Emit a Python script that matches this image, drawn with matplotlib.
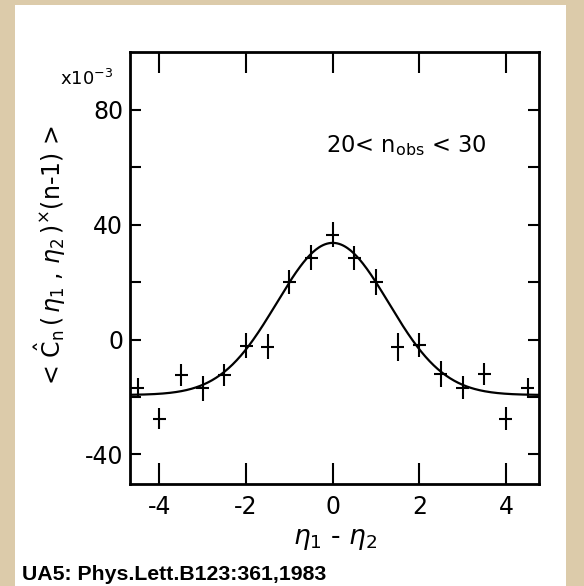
import numpy as np
import matplotlib
matplotlib.use("Agg")
import matplotlib.pyplot as plt
from matplotlib.patches import Rectangle
from matplotlib.ticker import FixedLocator

plt.rcParams['font.family'] = ['DejaVu Sans']
plt.rcParams['mathtext.fontset'] = 'custom'
plt.rcParams['mathtext.rm'] = 'DejaVu Sans'
plt.rcParams['mathtext.it'] = 'DejaVu Sans:italic'
plt.rcParams['axes.unicode_minus'] = False

# measured points (eta1 - eta2, correlation x 1e3)
deta = [-4.5, -4.0, -3.5, -3.0, -2.5, -2.0, -1.5, -1.0, -0.5, 0.0,
        0.5, 1.0, 1.5, 2.0, 2.5, 3.0, 3.5, 4.0, 4.5]
corr = [-17.0, -27.5, -12.4, -17.0, -12.4, -2.1, -2.5, 20.1, 28.5, 36.6,
        28.3, 20.1, -2.5, -1.9, -12.0, -16.7, -12.0, -27.5, -16.7]
corr_err = [3.5, 3.8, 3.8, 4.3, 3.8, 4.3, 4.3, 4.3, 4.3, 4.4,
            4.2, 4.5, 4.8, 4.1, 4.5, 3.9, 3.8, 4.1, 3.5]
bin_half = 0.15

# gaussian + constant fit drawn in the paper
fit_base = -19.3
fit_amp = 53.0
fit_sigma = 1.29

xticks = [-4, -2, 0, 2, 4]
ymajor = [-40, 0, 40, 80]
yminor = [-20, 20, 60]

fig = plt.figure(figsize=(5.84, 5.86), dpi=100)
fig.patch.set_facecolor('#dccbaa')
fig.patches.append(Rectangle((15 / 584, 0), (566 - 15) / 584, 1 - 5 / 586,
                             transform=fig.transFigure, facecolor='white',
                             edgecolor='none', zorder=-10))

ax = fig.add_axes([130 / 584, 1 - 484 / 586, 409.3 / 584, 432.3 / 586])
ax.set_zorder(5)
ax.set_facecolor('white')

xs = np.linspace(-4.68, 4.77, 400)
ax.plot(xs, fit_base + fit_amp * np.exp(-xs ** 2 / (2 * fit_sigma ** 2)),
        color='black', lw=1.6)
ax.errorbar(deta, corr, yerr=corr_err, xerr=bin_half, fmt='none',
            ecolor='black', elinewidth=1.5, capsize=0)

ax.set_xlim(-4.68, 4.77)
ax.set_ylim(-50.3, 100.3)
ax.set_xticks(xticks)
ax.yaxis.set_major_locator(FixedLocator(ymajor))
ax.yaxis.set_minor_locator(FixedLocator(yminor))
ax.tick_params(which='both', direction='in', top=True, right=True,
               length=8, width=1.5, labelsize=17)
ax.tick_params(axis='x', pad=8)
ax.tick_params(axis='y', pad=5)
for sp in ax.spines.values():
    sp.set_linewidth(2)

for t in ax.xaxis.get_major_ticks():
    if t.get_loc() == 0:
        t.tick1line.set_markersize(15)
        t.tick2line.set_markersize(15)

ax.set_xlabel(r'$\eta_{\mathrm{1}}$ - $\eta_{\mathrm{2}}$', fontsize=19, labelpad=5)
fig.text(50 / 584, 1 - 255 / 586,
         r'< $\hat{\mathrm{C}}_{\mathrm{n}}\,(\,\eta_{\mathrm{1}}\ ,\,\eta_{\mathrm{2}}\,)^{\times}$(n-1) >',
         rotation=90, ha='center', va='center', fontsize=17)
fig.text(113 / 584, 1 - 85 / 586, r'x10$^{-3}$', ha='right',
         va='baseline', fontsize=13)
ax.text(326 / 584, 1 - 152 / 586, r'20< $\mathrm{n_{obs}}$ < 30',
        transform=fig.transFigure, fontsize=16.3, va='baseline')
fig.text(22 / 584, 1 - 580 / 586, 'UA5: Phys.Lett.B123:361,1983',
         fontsize=15.3, fontweight='bold', va='baseline',
         family='Liberation Sans')

fig.savefig('out.png', dpi=100, facecolor=fig.get_facecolor())
